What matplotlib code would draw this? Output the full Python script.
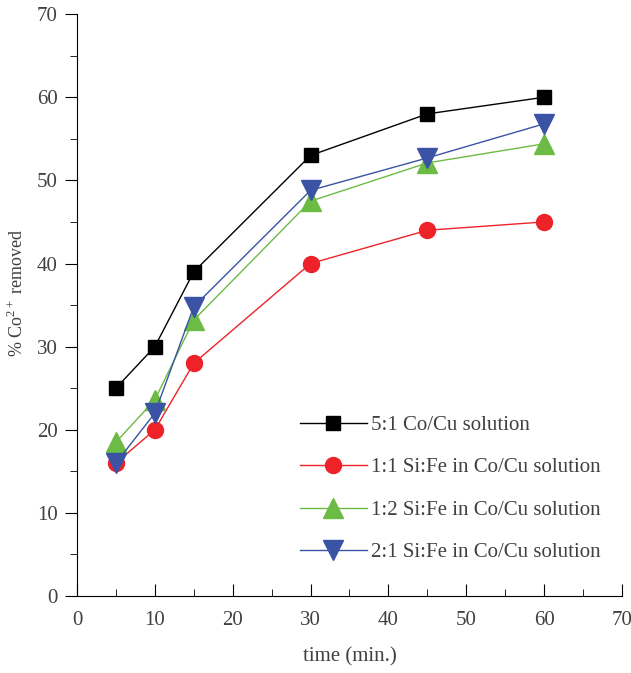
import matplotlib
matplotlib.use("Agg")
import matplotlib.pyplot as plt
from matplotlib.ticker import MultipleLocator

plt.rcParams['font.family'] = ['Liberation Serif', 'DejaVu Serif']
plt.rcParams['mathtext.fontset'] = 'custom'
plt.rcParams['mathtext.rm'] = 'Liberation Serif'

# 数据
time = [5, 10, 15, 30, 45, 60]
co_cu = [25, 30, 39, 53, 58, 60]
si_fe_11 = [16, 20, 28, 40, 44, 45]
si_fe_12 = [18.5, 23.6, 33.2, 47.5, 52.1, 54.4]
si_fe_21 = [16, 22, 34.8, 48.8, 52.7, 56.8]
labels = ['5:1 Co/Cu solution', '1:1 Si:Fe in Co/Cu solution',
          '1:2 Si:Fe in Co/Cu solution', '2:1 Si:Fe in Co/Cu solution']

txt = '#404040'

fig = plt.figure(figsize=(6.31, 6.73), dpi=100)
ax = fig.add_axes([0.122, 0.1144, 0.8637, 0.8646])

ax.plot(time, co_cu, color='black', lw=1, marker='s', ms=10.5, mec='black', mfc='black', label=labels[0])
ax.plot(time, si_fe_11, color='#ee2229', lw=1, marker='o', ms=11.5, mec='#ee2229', mfc='#ee2229', label=labels[1])
ax.plot(time, si_fe_12, color='#6cbb45', lw=1, marker='^', ms=14.5, mec='#6cbb45', mfc='#6cbb45', label=labels[2])
ax.plot(time, si_fe_21, color='#3a53a4', lw=1, marker='v', ms=14.5, mec='#3a53a4', mfc='#3a53a4', label=labels[3])

ax.set_xlim(0, 70)
ax.set_ylim(0, 70)
ax.xaxis.set_major_locator(MultipleLocator(10))
ax.xaxis.set_minor_locator(MultipleLocator(5))
ax.yaxis.set_major_locator(MultipleLocator(10))
ax.yaxis.set_minor_locator(MultipleLocator(5))

ax.spines['top'].set_visible(False)
ax.spines['right'].set_visible(False)
ax.tick_params(axis='x', which='major', direction='in', length=9, labelsize=15, labelcolor=txt, pad=11)
ax.tick_params(axis='x', which='minor', direction='in', length=5)
ax.tick_params(axis='y', which='major', direction='out', length=9, labelsize=15, labelcolor=txt, pad=5)
ax.tick_params(axis='y', which='minor', direction='out', length=5)

ax.set_xlabel('time (min.)', fontsize=15, color=txt, labelpad=12)
ax.set_ylabel(r'% Co$^{\mathrm{2+}}$ removed', fontsize=13, color=txt)
ax.yaxis.set_label_coords(-0.091, 0.522)

leg = ax.legend(loc='center left', bbox_to_anchor=(0.409, 0.184), frameon=False,
                fontsize=15, handlelength=3.2, numpoints=1, borderpad=0,
                borderaxespad=0, labelspacing=1.1, handletextpad=0.2)
for t in leg.get_texts():
    t.set_color(txt)

fig.savefig('out.png', dpi=100)
